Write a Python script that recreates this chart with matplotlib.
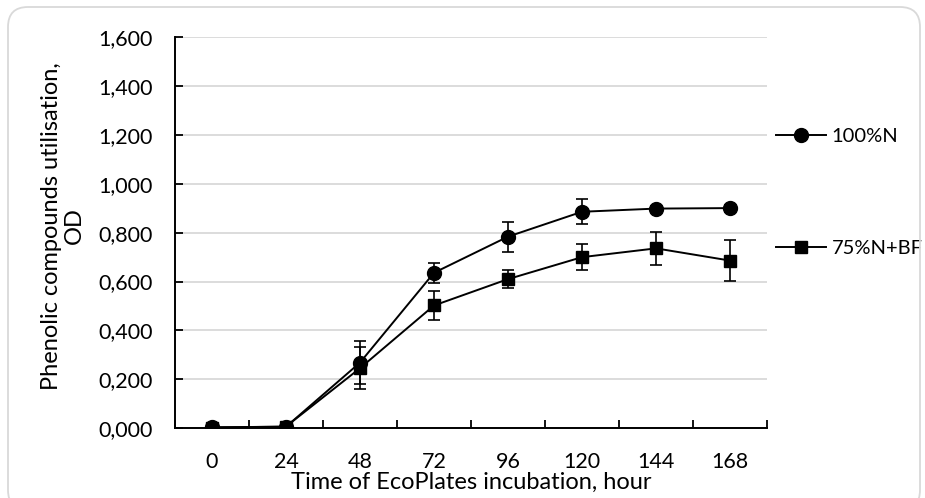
import matplotlib
matplotlib.use("Agg")
import matplotlib.pyplot as plt
from matplotlib.patches import FancyBboxPatch
from matplotlib.lines import Line2D
from matplotlib.ticker import FuncFormatter, FixedLocator
import numpy as np

plt.rcParams['font.family'] = ['Lato', 'DejaVu Sans']

hours = ["0", "24", "48", "72", "96", "120", "144", "168"]
n100 = [0.003, 0.005, 0.268, 0.636, 0.784, 0.886, 0.899, 0.901]
n100_err = [0.004, 0.004, 0.088, 0.040, 0.062, 0.052, 0.012, 0.014]
n75bf = [0.002, 0.006, 0.245, 0.502, 0.610, 0.700, 0.736, 0.686]
n75bf_err = [0.003, 0.004, 0.085, 0.060, 0.038, 0.054, 0.067, 0.085]
labels = ["100%N", "75%N+BF"]

W, H = 925, 498
fig = plt.figure(figsize=(W / 100, H / 100), dpi=100)
ax = fig.add_axes([175 / W, 1 - 428 / H, (767 - 175) / W, (428 - 37.5) / H])

x = np.arange(len(hours))
handles = []
for vals, err, mk, ms, lab in [(n100, n100_err, "o", 10, labels[0]),
                               (n75bf, n75bf_err, "s", 8.5, labels[1])]:
    ax.errorbar(x, vals, yerr=err, color="black", lw=1.4, marker=mk, ms=ms,
                ecolor="black", elinewidth=1.2, capsize=4.5, capthick=1.2)
    handles.append(Line2D([], [], color="black", lw=1.4, marker=mk, ms=ms, label=lab))

ax.set_xlim(-0.5, len(hours) - 0.5)
ax.set_ylim(0, 1.6)
ax.set_yticks(np.arange(0, 1.601, 0.2))
ax.yaxis.set_major_formatter(FuncFormatter(lambda v, p: f"{v:.3f}".replace(".", ",")))
ax.set_xticks(x)
ax.set_xticklabels(hours)
ax.xaxis.set_minor_locator(FixedLocator(np.arange(-0.5, len(hours), 1.0)))
ax.tick_params(axis="x", which="major", length=0, labelsize=15.5, pad=17)
ax.tick_params(axis="x", which="minor", direction="in", length=6, width=1.3)
ax.tick_params(axis="y", direction="in", length=6, width=1.3, labelsize=15.5, pad=16)
ax.grid(axis="y", color="#d9d9d9", lw=1.3)
ax.set_axisbelow(True)
for s in ["top", "right"]:
    ax.spines[s].set_visible(False)
for s in ["left", "bottom"]:
    ax.spines[s].set_linewidth(1.4)

fig.text(471 / W, 1 - 482 / H, "Time of EcoPlates incubation, hour", ha="center", va="center",
         fontsize=17)
fig.text(63 / W, 1 - 226 / H, "Phenolic compounds utilisation,\nOD", ha="center", va="center",
         rotation=90, fontsize=17, multialignment="center", linespacing=1.15)

leg = ax.legend(handles=handles, loc="upper left", bbox_to_anchor=(776 / W, 1 - 128 / H),
                bbox_transform=fig.transFigure, frameon=False, fontsize=14.5,
                labelspacing=4.7, handlelength=2.5, handletextpad=0.25, borderpad=0,
                borderaxespad=0)

frame = FancyBboxPatch((8, -12), 912, 503, boxstyle="round,pad=0,rounding_size=20",
                       transform=None, fill=False, edgecolor="#d9d9d9", lw=1.3)
fig.patches.append(frame)

fig.savefig("out.png", dpi=100)
